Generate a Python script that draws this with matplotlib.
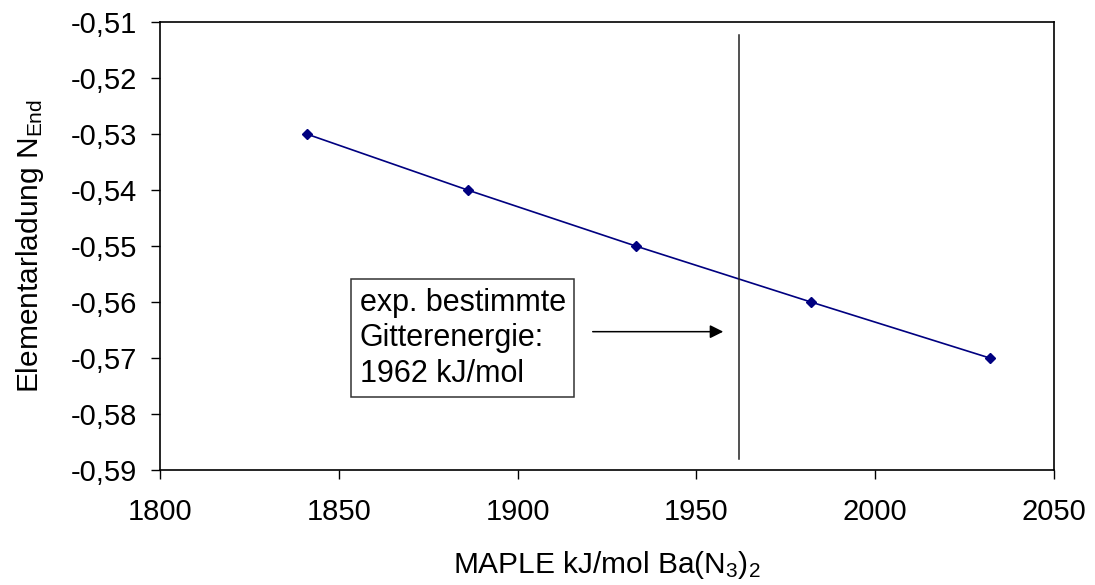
import matplotlib.pyplot as plt
from matplotlib.ticker import FuncFormatter

plt.rcParams['font.family'] = ['Liberation Sans', 'DejaVu Sans']
plt.rcParams['mathtext.fontset'] = 'custom'
plt.rcParams['mathtext.rm'] = 'Liberation Sans'
plt.rcParams['mathtext.it'] = 'Liberation Sans'

# MAPLE lattice energies vs. elementary charge on the terminal N atom
maple = [1841, 1886, 1933, 1982, 2032]
charge_end = [-0.53, -0.54, -0.55, -0.56, -0.57]
exp_energy = 1962
x_ticks = [1800, 1850, 1900, 1950, 2000, 2050]
y_ticks = [-0.59, -0.58, -0.57, -0.56, -0.55, -0.54, -0.53, -0.52, -0.51]

fig = plt.figure(figsize=(10.95, 5.85), dpi=100)
ax = fig.add_axes([0.1461, 0.1966, 0.8165, 0.7658])

ax.plot(maple, charge_end, color='#000080', linewidth=1.2,
        marker='D', markersize=5, markerfacecolor='#000080', markeredgecolor='#000080')

# experimental lattice energy
ax.plot([exp_energy, exp_energy], [-0.5123, -0.5881], color='#222222', linewidth=1.1)
ax.annotate('', xy=(1957.5, -0.5653), xytext=(1921, -0.5653),
            arrowprops=dict(arrowstyle='-|>', color='black', lw=1.1,
                            mutation_scale=20, shrinkA=0, shrinkB=0))
ax.text(1855.8, -0.5665, 'exp. bestimmte\nGitterenergie:\n1962 kJ/mol',
        fontsize=22, ha='left', va='center', linespacing=1.25,
        bbox=dict(boxstyle='square,pad=0.27', facecolor='white',
                  edgecolor='#333333', linewidth=1.1))

ax.set_xlim(1800, 2050)
ax.set_ylim(-0.59, -0.51)
ax.set_xticks(x_ticks)
ax.set_yticks(y_ticks)
ax.yaxis.set_major_formatter(FuncFormatter(lambda v, p: f'{v:.2f}'.replace('.', ',')))
ax.tick_params(direction='out', length=6.5, width=1, labelsize=21)
ax.tick_params(axis='x', pad=14)
ax.tick_params(axis='y', pad=10)
for s in ax.spines.values():
    s.set_linewidth(1.2)
    s.set_color('black')

ax.set_xlabel('MAPLE kJ/mol Ba(N$_3$)$_2$', fontsize=21.5, labelpad=16)
ax.set_ylabel('Elementarladung N$_{\\mathrm{End}}$', fontsize=21.5, labelpad=18)

fig.savefig('out.png', dpi=100)
